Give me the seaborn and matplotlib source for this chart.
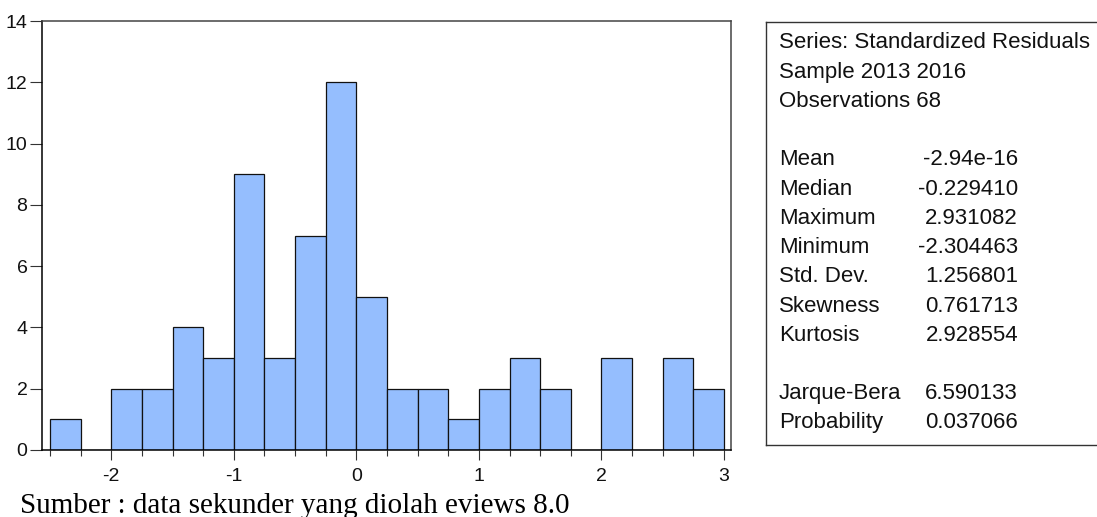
import numpy as np
import pandas as pd
import matplotlib
matplotlib.use("Agg")
import matplotlib.pyplot as plt
from matplotlib.ticker import MultipleLocator
import seaborn as sns

# Histogram of standardized residuals: bin edges and counts per bin
bin_start = -2.5
bin_width = 0.25
counts = [1, 0, 2, 2, 4, 3, 9, 3, 7, 12, 5, 2, 2, 1, 2, 3, 2, 0, 3, 0, 3, 2]

# Summary statistics panel
stat_labels = ["Series: Standardized Residuals", "Sample 2013 2016", "Observations 68", "",
               "Mean", "Median", "Maximum", "Minimum", "Std. Dev.", "Skewness", "Kurtosis", "",
               "Jarque-Bera", "Probability"]
stat_values = ["", "", "", "",
               "-2.94e-16", "-0.229410", "2.931082", "-2.304463", "1.256801", "0.761713", "2.928554", "",
               "6.590133", "0.037066"]

y_ticks = [0, 2, 4, 6, 8, 10, 12, 14]
x_ticks = [-2, -1, 0, 1, 2, 3]

caption = "Sumber : data sekunder yang diolah eviews 8.0"

sns.set_theme(style="white")
plt.rcParams["font.family"] = ["Liberation Sans", "DejaVu Sans"]
plt.rcParams["axes.unicode_minus"] = False

W, H = 1097, 517
fig = plt.figure(figsize=(W / 100, H / 100), dpi=100)
fig.patch.set_facecolor("white")


def px_axes(x0, y0, x1, y1):
    return fig.add_axes([x0 / W, (H - y1) / H, (x1 - x0) / W, (y1 - y0) / H])


edges = bin_start + bin_width * np.arange(len(counts) + 1)
centers = (edges[:-1] + edges[1:]) / 2
df = pd.DataFrame({"resid": centers, "n": counts})

ax = px_axes(42, 21, 731, 450)
sns.histplot(data=df, x="resid", weights="n", binwidth=bin_width,
             binrange=(edges[0], edges[-1]), ax=ax,
             color="#95BEFE", edgecolor="#111111", linewidth=0.9, alpha=1.0)
ax.set_xlim(-2.565, 3.057)
ax.set_ylim(0, 14)
ax.set_yticks(y_ticks)
ax.set_xticks(x_ticks)
ax.xaxis.set_minor_locator(MultipleLocator(bin_width))
ax.set_xlabel("")
ax.set_ylabel("")
ax.tick_params(axis="y", which="major", direction="out", length=8.5, width=0.8,
               color="#333333", labelsize=14, pad=2, left=True, labelcolor="#111111")
ax.tick_params(axis="x", which="major", direction="out", length=7, width=0.8,
               color="#333333", labelsize=14, pad=6, bottom=True, labelcolor="#111111")
ax.tick_params(axis="x", which="minor", direction="out", length=4, width=0.8,
               color="#333333", bottom=True)
for side, sp in ax.spines.items():
    sp.set_visible(True)
    sp.set_linewidth(1.1)
    sp.set_color("black" if side in ("left", "bottom") else "#444444")

# Statistics box
bx = px_axes(766, 22, 1120, 445)
bx.set_xlim(766, 1120)
bx.set_ylim(445, 22)
bx.set_xticks([])
bx.set_yticks([])
for sp in bx.spines.values():
    sp.set_visible(True)
    sp.set_linewidth(1.0)
    sp.set_color("#333333")
for i, (lab, val) in enumerate(zip(stat_labels, stat_values)):
    y = 43 + i * 29.23
    if lab:
        bx.text(779, y, lab, ha="left", va="center", fontsize=16, color="#111111")
    if val:
        bx.text(1018, y, val, ha="right", va="center", fontsize=16, color="#111111")

fig.text(20 / W, (H - 513) / H, caption, ha="left", va="baseline",
         fontsize=21, family=["Liberation Serif", "DejaVu Serif"], color="black")

fig.savefig("out.png", dpi=100, facecolor="white")
